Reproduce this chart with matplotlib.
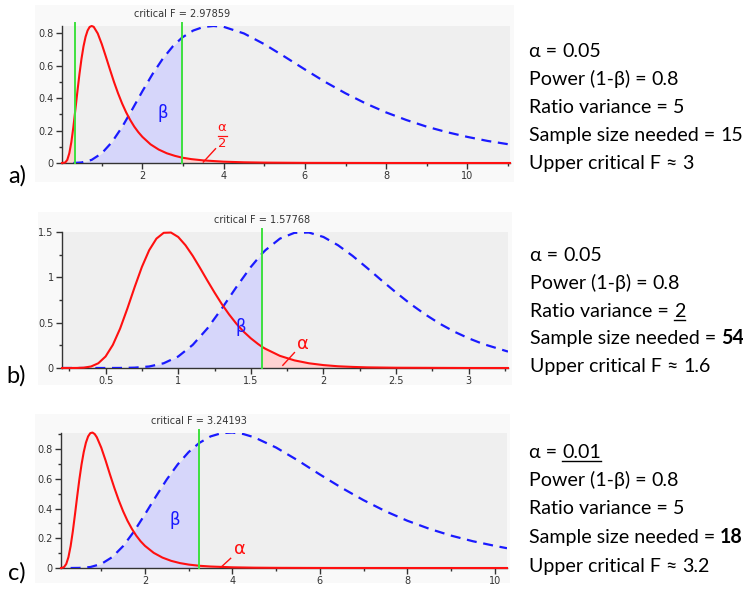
import matplotlib
matplotlib.use("Agg")
import matplotlib.pyplot as plt
from matplotlib.patches import Rectangle
from matplotlib.lines import Line2D
from matplotlib.ticker import MultipleLocator, FuncFormatter
import numpy as np

W, H = 743, 589

# ---------------- data ----------------
# panel a : two-sided, ratio 5, n = 15
a_red_x = [0.02, 0.1, 0.15, 0.2, 0.25, 0.3, 0.3357, 0.35, 0.4, 0.45, 0.5, 0.55, 0.6, 0.65, 0.7, 0.75, 0.8,
           0.9, 1.0, 1.1, 1.2, 1.3, 1.4, 1.5, 1.6, 1.7, 1.8, 1.9, 2.0, 2.2, 2.4, 2.6, 2.8, 2.97859, 3.2, 3.5,
           4.0, 4.5, 5.0, 6.0, 8.0, 11.05]
a_red_y = [0.0, 0.0032, 0.0193, 0.060, 0.129, 0.222, 0.300, 0.331, 0.443, 0.549, 0.643, 0.720, 0.778, 0.817,
           0.839, 0.845, 0.840, 0.799, 0.733, 0.656, 0.577, 0.500, 0.430, 0.367, 0.312, 0.265, 0.224, 0.190,
           0.161, 0.115, 0.083, 0.060, 0.044, 0.033, 0.024, 0.016, 0.0081, 0.0043, 0.0024, 0.0008, 0.0001, 0.0]
a_blue_x = [0.3, 0.5, 0.75, 1.0, 1.25, 1.5, 1.75, 2.0, 2.25, 2.5, 2.75, 2.97859, 3.25, 3.5, 3.75, 4.0, 4.5, 5.0,
            5.5, 6.0, 6.5, 7.0, 7.5, 8.0, 8.5, 9.0, 9.5, 10.0, 10.5, 11.05]
a_blue_y = [0.0002, 0.0032, 0.0193, 0.060, 0.129, 0.222, 0.331, 0.443, 0.549, 0.643, 0.720, 0.774, 0.817, 0.839,
            0.845, 0.840, 0.799, 0.733, 0.656, 0.577, 0.500, 0.430, 0.367, 0.312, 0.265, 0.224, 0.190, 0.161,
            0.136, 0.114]
a_crit = 2.97859
a_crit_low = 0.3357

# panel b : one-sided, ratio 2, n = 54
b_red_x = [0.2, 0.3, 0.35, 0.4, 0.45, 0.5, 0.55, 0.6, 0.65, 0.7, 0.75, 0.8, 0.85, 0.9, 0.95, 1.0, 1.05, 1.1,
           1.15, 1.2, 1.25, 1.3, 1.35, 1.4, 1.45, 1.5, 1.55, 1.57768, 1.6, 1.7, 1.8, 1.9, 2.0, 2.1, 2.2, 2.3,
           2.5, 3.0, 3.27]
b_red_y = [0.0, 0.0006, 0.0038, 0.0167, 0.0523, 0.127, 0.255, 0.435, 0.656, 0.892, 1.115, 1.299, 1.427, 1.491,
           1.494, 1.445, 1.354, 1.237, 1.104, 0.966, 0.832, 0.705, 0.591, 0.489, 0.401, 0.327, 0.264, 0.233,
           0.212, 0.134, 0.084, 0.052, 0.032, 0.019, 0.012, 0.007, 0.003, 0.0002, 0.0]
b_blue_x = [0.2, 0.5, 0.6, 0.7, 0.8, 0.9, 1.0, 1.1, 1.2, 1.3, 1.4, 1.5, 1.57768, 1.6, 1.7, 1.8, 1.9, 2.0, 2.1,
            2.2, 2.3, 2.4, 2.5, 2.6, 2.7, 2.8, 2.9, 3.0, 3.1, 3.27]
b_blue_y = [0.0, 0.0, 0.0006, 0.0038, 0.0167, 0.0523, 0.127, 0.255, 0.435, 0.656, 0.892, 1.115, 1.263, 1.299,
            1.427, 1.491, 1.494, 1.445, 1.354, 1.237, 1.104, 0.966, 0.832, 0.705, 0.591, 0.489, 0.401, 0.327,
            0.264, 0.181]
b_crit = 1.57768

# panel c : one-sided, alpha 0.01, ratio 5, n = 18
c_red_x = [0.08, 0.1, 0.15, 0.2, 0.25, 0.3, 0.35, 0.4, 0.45, 0.5, 0.55, 0.6, 0.65, 0.7, 0.75, 0.8, 0.85, 0.9,
           1.0, 1.1, 1.2, 1.3, 1.4, 1.5, 1.6, 1.7, 1.8, 1.9, 2.0, 2.2, 2.4, 2.6, 2.8, 3.0, 3.24193, 3.5, 4.0,
           4.5, 5.0, 6.0, 8.0, 10.28]
c_red_y = [0.0002, 0.0007, 0.0065, 0.027, 0.073, 0.147, 0.246, 0.361, 0.481, 0.596, 0.697, 0.780, 0.843, 0.885,
           0.907, 0.911, 0.901, 0.879, 0.810, 0.723, 0.629, 0.539, 0.456, 0.382, 0.318, 0.264, 0.218, 0.180,
           0.149, 0.102, 0.070, 0.048, 0.033, 0.023, 0.015, 0.010, 0.0046, 0.0022, 0.0011, 0.0003, 0.0, 0.0]
c_blue_x = [0.3, 0.5, 0.75, 1.0, 1.25, 1.5, 1.75, 2.0, 2.25, 2.5, 2.75, 3.0, 3.24193, 3.5, 3.75, 4.0, 4.25, 4.5,
            5.0, 5.5, 6.0, 6.5, 7.0, 7.5, 8.0, 8.5, 9.0, 9.5, 10.0, 10.28]
c_blue_y = [0.0, 0.0007, 0.0065, 0.027, 0.073, 0.147, 0.246, 0.361, 0.481, 0.596, 0.697, 0.780, 0.841, 0.885,
            0.907, 0.911, 0.901, 0.879, 0.810, 0.723, 0.629, 0.539, 0.456, 0.382, 0.318, 0.264, 0.218, 0.180,
            0.149, 0.133]
c_crit = 3.24193

panel_labels = ["a)", "b)", "c)"]
crit_texts = ["critical F = 2.97859", "critical F = 1.57768", "critical F = 3.24193"]

# right-hand texts: (prefix, value, bold, underline)
info_a = [("α =", "0.05", False, False), ("Power (1-β) =", "0.8", False, False),
          ("Ratio variance =", "5", False, False), ("Sample size needed =", "15", False, False),
          ("Upper critical F ≈", "3", False, False)]
info_b = [("α =", "0.05", False, False), ("Power (1-β) =", "0.8", False, False),
          ("Ratio variance =", "2", False, True), ("Sample size needed =", "54", True, False),
          ("Upper critical F ≈", "1.6", False, False)]
info_c = [("α =", "0.01", False, True), ("Power (1-β) =", "0.8", False, False),
          ("Ratio variance =", "5", False, False), ("Sample size needed =", "18", True, False),
          ("Upper critical F ≈", "3.2", False, False)]

# ---------------- styling ----------------
RED = "#ff1010"
BLUE = "#1a1aff"
GREEN = "#3ee03e"
LAV = "#d6d6fa"
PINK = "#ffd2d2"
AXBG = "#efefef"
PANELBG = "#f9f9f9"
TICKC = "#333333"
TXTFONT = ["Lato", "DejaVu Sans"]

fig = plt.figure(figsize=(W / 100, H / 100), dpi=100)
fig.patch.set_facecolor("white")


def fr(x0, y0, x1, y1):
    """pixel box -> figure fraction rect"""
    return [x0 / W, 1 - y1 / H, (x1 - x0) / W, (y1 - y0) / H]


# light panel backgrounds (behind the axes)
for (x0, y0, x1, y1) in [(35, 5, 514, 182), (38, 212, 512, 385), (35, 414, 510, 583)]:
    fig.patches.append(Rectangle((x0 / W, 1 - y1 / H), (x1 - x0) / W, (y1 - y0) / H,
                                 transform=fig.transFigure, facecolor=PANELBG, edgecolor="none", zorder=-5))

axes_boxes = [(62, 26, 510, 163), (62, 232, 508, 368), (61, 433, 507, 568)]
xlims = [(0.02, 11.05), (0.2, 3.27), (0.08, 10.28)]
ylims = [(0, 0.845), (0, 1.5), (0, 0.908)]
xmaj = [2, 0.5, 2]
xmin = [1, 0.25, 1]
ymaj = [0.2, 0.5, 0.2]
ymin = [0.1, 0.25, 0.1]


def fmt(v, pos):
    s = ("%.2f" % v).rstrip("0").rstrip(".")
    return s


axs = []
for i in range(3):
    ax = fig.add_axes(fr(*axes_boxes[i]))
    ax.set_zorder(1)
    ax.set_facecolor(AXBG)
    ax.set_xlim(*xlims[i])
    ax.set_ylim(*ylims[i])
    for s in ["top", "right"]:
        ax.spines[s].set_visible(False)
    for s in ["left", "bottom"]:
        ax.spines[s].set_color(TICKC)
        ax.spines[s].set_linewidth(1.0)
    ax.xaxis.set_major_locator(MultipleLocator(xmaj[i]))
    ax.xaxis.set_minor_locator(MultipleLocator(xmin[i]))
    ax.yaxis.set_major_locator(MultipleLocator(ymaj[i]))
    ax.yaxis.set_minor_locator(MultipleLocator(ymin[i]))
    ax.xaxis.set_major_formatter(FuncFormatter(fmt))
    ax.yaxis.set_major_formatter(FuncFormatter(fmt))
    ax.tick_params(which="major", length=4, width=1, color=TICKC, labelsize=7, labelcolor=TICKC, pad=2)
    ax.tick_params(which="minor", length=2.5, width=1, color=TICKC)
    axs.append(ax)

datasets = [
    (a_red_x, a_red_y, a_blue_x, a_blue_y),
    (b_red_x, b_red_y, b_blue_x, b_blue_y),
    (c_red_x, c_red_y, c_blue_x, c_blue_y),
]
crits = [a_crit, b_crit, c_crit]

for i, ax in enumerate(axs):
    rx, ry, bx, by = [np.array(v) for v in datasets[i]]
    crit = crits[i]
    # beta region under blue curve (left of critical F)
    ax.fill_between(bx, 0, by, where=bx <= crit + 1e-9, color=LAV, linewidth=0, zorder=1)
    # alpha region(s) under red curve
    ax.fill_between(rx, 0, ry, where=rx >= crit - 1e-9, color=PINK, linewidth=0, zorder=1)
    if i == 0:
        ax.fill_between(rx, 0, ry, where=rx <= a_crit_low + 1e-9, color=PINK, linewidth=0, zorder=1)
    ax.plot(bx, by, color=BLUE, lw=1.6, ls=(0, (4.5, 3)), zorder=3)
    ax.plot(rx, ry, color=RED, lw=1.5, zorder=4, clip_on=False, solid_joinstyle="round")
    ytop = ylims[i][1]
    ax.plot([crit, crit], [0, ytop * 1.025], color=GREEN, lw=1.4, zorder=5, clip_on=False)
    if i == 0:
        ax.plot([a_crit_low, a_crit_low], [0, ytop * 1.025], color=GREEN, lw=1.4, zorder=5, clip_on=False)
    ax.annotate(crit_texts[i], xy=(crit, 1.0), xycoords=("data", "axes fraction"),
                xytext=(0, 8.8), textcoords="offset points", ha="center", va="center",
                fontsize=7, color=TICKC, annotation_clip=False)

# beta labels
axs[0].text(2.5, 0.31, "β", color=BLUE, fontsize=12, ha="center", va="center", zorder=6)
axs[1].text(1.43, 0.45, "β", color=BLUE, fontsize=12, ha="center", va="center", zorder=6)
axs[2].text(2.69, 0.32, "β", color=BLUE, fontsize=12, ha="center", va="center", zorder=6)

# alpha labels
ax = axs[0]
ax.text(3.96, 0.216, "α", color=RED, fontsize=9.5, ha="center", va="center", zorder=6)
ax.text(3.96, 0.118, "2", color=RED, fontsize=9.5, ha="center", va="center", zorder=6)
ax.plot([3.85, 4.08], [0.167, 0.167], color=RED, lw=0.9, zorder=6)
ax.plot([3.50, 3.80], [0.006, 0.088], color=RED, lw=1.0, zorder=6)

ax = axs[1]
ax.text(1.86, 0.26, "α", color=RED, fontsize=13, ha="center", va="center", zorder=6)
ax.plot([1.72, 1.80], [0.03, 0.17], color=RED, lw=1.0, zorder=6)

ax = axs[2]
ax.text(4.18, 0.125, "α", color=RED, fontsize=13, ha="center", va="center", zorder=6)
ax.plot([3.72, 3.96], [0.0, 0.065], color=RED, lw=1.0, zorder=6)

# panel labels
for lab, (x, y) in zip(panel_labels, [(8, 183), (6, 383), (8, 580)]):
    fig.text(x / W, 1 - y / H, lab, fontsize=17, family=TXTFONT, ha="left", va="baseline", color="black")

# right-hand information text
FS = 14.1
fig.canvas.draw()
renderer = fig.canvas.get_renderer()


def text_w(s, weight="normal"):
    t = fig.text(0, 0, s, fontsize=FS, family=TXTFONT, weight=weight)
    w = t.get_window_extent(renderer).width
    t.remove()
    return w


blocks = [(529, [57, 85, 113, 141, 169], info_a),
          (530, [261, 289, 317, 344, 372], info_b),
          (529, [458, 486, 514, 543, 572], info_c)]
for x0, ys, info in blocks:
    for y, (prefix, val, bold, ul) in zip(ys, info):
        fig.text(x0 / W, 1 - y / H, prefix, fontsize=FS, family=TXTFONT, ha="left", va="baseline")
        xv = x0 + text_w(prefix + " " + val) - text_w(val)
        t2 = fig.text(xv / W, 1 - y / H, val, fontsize=FS, family=TXTFONT, ha="left", va="baseline",
                      weight="bold" if bold else "normal")
        if ul:
            bb2 = t2.get_window_extent(renderer)
            yl = 1 - (y + 2.5) / H
            fig.lines.append(Line2D([bb2.x0 / W, bb2.x1 / W], [yl, yl], transform=fig.transFigure,
                                    color="black", lw=1.0))

fig.savefig("out.png", dpi=100)
